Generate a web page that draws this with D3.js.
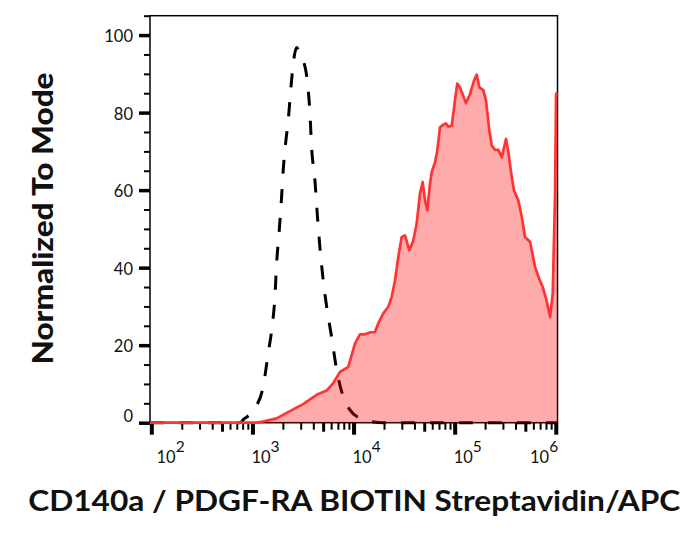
<!DOCTYPE html>
<html>
<head>
<meta charset="utf-8">
<script src="https://cdn.jsdelivr.net/npm/d3@7"></script>
<style>
  body { margin: 0; background: #fff; }
  text { font-family: Lato, "DejaVu Sans", sans-serif; }
</style>
</head>
<body>
<svg id="histo" width="695" height="536"></svg>
<script>
// control (unstained) histogram, dashed
const controlIntensity = [97, 750, 820, 1057, 1276, 1432, 1549, 1667, 1734, 1841, 1941, 2014, 2143, 2259, 2388, 2529, 2735, 2951, 3133, 3483, 3707, 3846, 4150, 4375, 4645, 5012, 5420, 6067, 6808, 7907, 9204, 11561, 14521, 20000, 1040000];
const controlCount = [0, 0, 0.9, 3.7, 9.3, 17.9, 23.9, 32.4, 41, 49.6, 58.2, 65.1, 72.8, 78, 85.7, 92.5, 96.8, 95.1, 93.8, 88.2, 79.7, 71.1, 62.5, 53.9, 45.3, 36.7, 29.9, 22.1, 13.6, 6.7, 3.3, 1.1, 0.3, 0, 0];

// stained histogram, filled red
const stainedIntensity = [97, 1099, 1276, 1734, 2350, 3177, 4315, 5420, 6295, 7345, 8872, 10330, 11561, 12970, 14521, 16293, 17540, 19680, 22029, 23820, 25700, 27669, 29923, 32281, 35563, 38994, 42073, 45394, 48306, 50933, 53580, 57016, 59293, 63973, 67298, 71614, 77268, 82035, 86497, 93541, 100700, 106170, 112980, 129420, 141900, 155240, 165200, 175390, 191870, 204170, 220270, 232810, 250610, 270390, 292420, 322170, 339610, 367280, 386360, 426580, 461310, 496590, 557190, 623730, 683900, 743000, 801700, 879000, 933300, 984000, 1006900, 1040000];
const stainedCount = [0, 0, 0.3, 1.1, 3.0, 4.8, 7.2, 8.3, 10.2, 13.1, 14.4, 20.4, 22.8, 22.8, 23.3, 23.4, 25.6, 28.2, 29.9, 32.4, 36.7, 42.7, 47.9, 48.3, 44.5, 47.0, 51.3, 59.1, 62.1, 57.3, 54.8, 61.6, 64.6, 67.2, 70.2, 76.2, 76.9, 77.2, 76.4, 76.6, 83.1, 87.5, 86.5, 82.4, 84.8, 88.2, 89.8, 86.5, 85.8, 83.1, 75.4, 71.5, 70.4, 70.4, 68.5, 73.2, 69.8, 63.3, 59.9, 57.3, 53.0, 47.9, 46.6, 40.2, 37.2, 35.0, 32.0, 27.3, 33.3, 59.1, 84.8, 85];

const yMajor = [0, 20, 40, 60, 80, 100];
const xDecades = [1e2, 1e3, 1e4, 1e5, 1e6];
const xExponents = ["2", "3", "4", "5", "6"];

const svg = d3.select("#histo");
const plotL = 150, plotR = 557.5, plotT = 15.7, plotB = 422.7;

const x = d3.scaleLog().domain([97, 1040000]).range([plotL, plotR]);
const y = d3.scaleLinear().domain([0, 105]).range([plotB, plotT]);

const control = controlIntensity.map((v, i) => [v, controlCount[i]]);
const stained = stainedIntensity.map((v, i) => [v, stainedCount[i]]);

// frame
svg.append("rect")
  .attr("x", plotL).attr("y", plotT)
  .attr("width", plotR - plotL).attr("height", plotB - plotT)
  .attr("fill", "none").attr("stroke", "#000").attr("stroke-width", 1.5);

// y ticks: minor every 5, major every 20
const yMinor = d3.range(5, 106, 5).filter(d => !yMajor.includes(d));
svg.append("g").attr("transform", `translate(${plotL},0)`)
  .call(d3.axisLeft(y).tickValues(yMinor).tickSize(6).tickFormat(""))
  .call(g => g.select(".domain").remove())
  .call(g => g.selectAll("line").attr("stroke-width", 2));

svg.append("g").attr("transform", `translate(${plotL},0)`)
  .call(d3.axisLeft(y).tickValues(yMajor).tickSize(11).tickPadding(6))
  .call(g => g.select(".domain").remove())
  .call(g => g.selectAll("line").attr("stroke-width", 3.5))
  .call(g => g.selectAll("text")
    .attr("font-size", 16.5).attr("font-family", "Lato").attr("fill", "#111")
    .attr("x", -17)
    .attr("dy", d => d === 0 ? "-0.05em" : "0.4em"));

// x ticks: decades, 5x and other minors
const xMid = [], xMinor = [];
xDecades.slice(0, -1).forEach(d => {
  for (let k = 2; k <= 9; k++) (k === 5 ? xMid : xMinor).push(d * k);
});

function xTicks(vals, size, w) {
  svg.append("g").attr("transform", `translate(0,${plotB})`)
    .call(d3.axisBottom(x).tickValues(vals).tickSize(size).tickFormat(""))
    .call(g => g.select(".domain").remove())
    .call(g => g.selectAll("line").attr("stroke-width", w));
}
xTicks(xMinor, 7, 2);
xTicks(xMid, 9, 3);
xTicks(xDecades, 12, 4);

// x tick labels as 10 with superscript
const xl = svg.append("g");
xDecades.forEach((d, i) => {
  const t = xl.append("text")
    .attr("x", Math.min(Math.max(x(d) - 1, 156.5), 530))
    .attr("y", 463)
    .attr("font-size", 16.5).attr("fill", "#111");
  t.append("tspan").text("10");
  t.append("tspan").attr("dy", -11).attr("font-size", 15.5).text(xExponents[i]);
});

// control histogram, dashed
const line = d3.line().x(d => x(d[0])).y(d => y(d[1]));
svg.append("path").datum(control)
  .attr("d", line.curve(d3.curveMonotoneX))
  .attr("fill", "none").attr("stroke", "#000")
  .attr("stroke-width", 3).attr("stroke-dasharray", "14,15");

// stained histogram
const area = d3.area().x(d => x(d[0])).y0(y(0)).y1(d => y(d[1]));
svg.append("path").datum(stained)
  .attr("d", area)
  .attr("fill", "rgb(255,0,0)").attr("fill-opacity", 0.33);
svg.append("path").datum(stained)
  .attr("d", d3.line().x(d => x(d[0])).y(d => y(d[1])))
  .attr("fill", "none").attr("stroke", "#ff3333")
  .attr("stroke-width", 2.7).attr("stroke-linejoin", "round");

// titles
svg.append("text")
  .attr("transform", "translate(52.5,218.5) rotate(-90)")
  .attr("text-anchor", "middle")
  .attr("font-size", 28).attr("font-weight", 900).attr("fill", "#111")
  .attr("textLength", 292).attr("lengthAdjust", "spacingAndGlyphs")
  .text("Normalized To Mode");

svg.append("text")
  .attr("x", 28.3).attr("y", 511)
  .attr("font-size", 29).attr("font-weight", "bold").attr("fill", "#111")
  .attr("textLength", 652).attr("lengthAdjust", "spacingAndGlyphs")
  .text("CD140a / PDGF-RA BIOTIN Streptavidin/APC");
</script>
</body>
</html>
